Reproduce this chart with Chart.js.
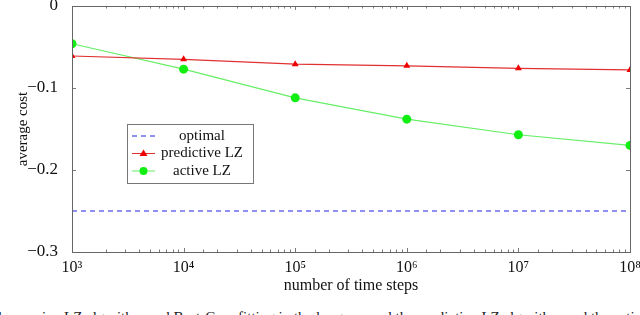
<!DOCTYPE html>
<html>
<head>
<meta charset="utf-8">
<script src="https://cdn.jsdelivr.net/npm/chart.js@4.4.0/dist/chart.umd.min.js"></script>
<style>
  html, body { margin: 0; padding: 0; background: #fff; overflow: hidden; }
  #wrap { position: relative; width: 640px; height: 300px; }
  #caption {
    position: absolute; left: -6px; top: 309px; white-space: nowrap;
    font-family: "Liberation Serif", serif; font-size: 15px; color: #222;
  }
</style>
</head>
<body>
<div id="wrap"><canvas id="cost-chart" width="640" height="300"></canvas></div>
<div id="caption">the passive LZ algorithm and Best-Case fitting in the long run and the predictive LZ algorithm and the active LZ algorithm with the heuristic</div>
<script>
// Data
const timeSteps = [1e3, 1e4, 1e5, 1e6, 1e7, 1e8];
const optimalCost = [-0.25, -0.25, -0.25, -0.25, -0.25, -0.25];
const predictiveCost = [-0.061, -0.065, -0.071, -0.073, -0.076, -0.078];
const activeCost = [-0.046, -0.077, -0.112, -0.138, -0.157, -0.170];
const yTicks = [0, -0.1, -0.2, -0.3];

const serif = '"Liberation Serif", "DejaVu Serif", serif';
const supDigits = { '0': '\u2070', '1': '\u00b9', '2': '\u00b2', '3': '\u00b3', '4': '\u2074',
                    '5': '\u2075', '6': '\u2076', '7': '\u2077', '8': '\u2078', '9': '\u2079' };

function toPoints(values) {
    return timeSteps.map((x, i) => ({ x: x, y: values[i] }));
}

function isPow10(v) {
    const e = Math.log10(v);
    return Math.abs(e - Math.round(e)) < 1e-9;
}

// Frame, inside tick marks and the boxed legend (pgfplots look)
const framePlugin = {
    id: 'frame',
    afterDatasetsDraw(chart) {
        const ctx = chart.ctx;
        const area = chart.chartArea;
        const xs = chart.scales.x;
        const ys = chart.scales.y;
        ctx.save();
        ctx.strokeStyle = '#7a7a7a';
        ctx.lineWidth = 1;

        // x ticks, major and minor, at top and bottom
        ctx.beginPath();
        xs.ticks.forEach(t => {
            const px = Math.round(xs.getPixelForValue(t.value)) + 0.5;
            const len = isPow10(t.value) ? 4 : 2.5;
            ctx.moveTo(px, area.bottom); ctx.lineTo(px, area.bottom - len);
            ctx.moveTo(px, area.top); ctx.lineTo(px, area.top + len);
        });
        // y ticks left and right
        yTicks.forEach(v => {
            const py = Math.round(ys.getPixelForValue(v)) + 0.5;
            ctx.moveTo(area.left, py); ctx.lineTo(area.left + 4, py);
            ctx.moveTo(area.right, py); ctx.lineTo(area.right - 4, py);
        });
        ctx.stroke();

        ctx.strokeStyle = '#666';
        ctx.strokeRect(Math.round(area.left) + 0.5, Math.round(area.top) + 0.5,
                       Math.round(area.right - area.left), Math.round(area.bottom - area.top));

        // legend box
        const lx = area.left + 55, ly = 124, lw = 126, lh = 59;
        ctx.fillStyle = '#fff';
        ctx.fillRect(lx, ly, lw, lh);
        ctx.strokeStyle = '#777';
        ctx.strokeRect(lx + 0.5, ly + 0.5, lw, lh);
        ctx.font = '15px ' + serif;
        ctx.textAlign = 'center';
        ctx.textBaseline = 'middle';
        chart.data.datasets.forEach((ds, i) => {
            const cy = ly + 12 + i * 17.5;
            ctx.strokeStyle = ds.borderColor;
            ctx.lineWidth = 1;
            ctx.setLineDash(ds.borderDash || []);
            ctx.beginPath();
            ctx.moveTo(lx + 5, cy); ctx.lineTo(lx + 28, cy);
            ctx.stroke();
            ctx.setLineDash([]);
            ctx.fillStyle = ds.pointBackgroundColor;
            if (ds.pointStyle === 'triangle') {
                ctx.beginPath();
                ctx.moveTo(lx + 16.5, cy - 4); ctx.lineTo(lx + 20.5, cy + 2.5); ctx.lineTo(lx + 12.5, cy + 2.5);
                ctx.closePath(); ctx.fill();
            } else if (ds.pointRadius > 0) {
                ctx.beginPath(); ctx.arc(lx + 16.5, cy, 4, 0, Math.PI * 2); ctx.fill();
            }
            ctx.fillStyle = '#111';
            ctx.fillText(ds.label, lx + 75, cy);
        });
        ctx.restore();
    }
};

new Chart(document.getElementById('cost-chart'), {
    type: 'line',
    data: {
        datasets: [{
            label: 'optimal',
            data: toPoints(optimalCost),
            borderColor: '#2020e0',
            borderWidth: 1,
            borderDash: [5, 4],
            pointRadius: 0,
            pointBackgroundColor: '#2020e0'
        }, {
            label: 'predictive LZ',
            data: toPoints(predictiveCost),
            borderColor: '#e03030',
            borderWidth: 1.2,
            pointStyle: 'triangle',
            pointRadius: 4,
            pointBorderWidth: 0,
            pointBackgroundColor: '#ee0000'
        }, {
            label: 'active LZ',
            data: toPoints(activeCost),
            borderColor: '#66ee66',
            borderWidth: 1.2,
            pointStyle: 'circle',
            pointRadius: 4.5,
            pointBorderWidth: 0,
            pointBackgroundColor: '#11ee11'
        }]
    },
    options: {
        responsive: false,
        animation: false,
        layout: { padding: { top: 6, right: 10, left: 0, bottom: 0 } },
        plugins: { legend: { display: false }, tooltip: { enabled: false } },
        scales: {
            x: {
                type: 'logarithmic',
                min: 1e3,
                max: 1e8,
                grid: { display: false },
                border: { display: false },
                ticks: {
                    autoSkip: false,
                    maxRotation: 0,
                    padding: -2,
                    color: '#111',
                    font: { family: serif, size: 16 },
                    callback: function (v) {
                        if (!isPow10(v)) return '';
                        const e = String(Math.round(Math.log10(v)));
                        return '10' + e.split('').map(d => supDigits[d]).join('');
                    }
                },
                title: {
                    display: true,
                    text: 'number of time steps',
                    color: '#111',
                    font: { family: serif, size: 16 },
                    padding: { top: 0, bottom: 5 }
                },
                afterFit(scale) {
                    scale.height = 48;
                    scale.paddingLeft = 0;
                    scale.paddingRight = 0;
                }
            },
            y: {
                min: -0.3,
                max: 0,
                grid: { display: false },
                border: { display: false },
                afterBuildTicks(scale) { scale.ticks = yTicks.map(v => ({ value: v })); },
                ticks: {
                    padding: 6,
                    color: '#111',
                    font: { family: serif, size: 17 },
                    callback: v => (v === 0 ? '0' : '\u2212' + Math.abs(v).toFixed(1))
                },
                title: {
                    display: true,
                    text: 'average cost',
                    color: '#111',
                    font: { family: serif, size: 15 },
                    padding: { top: 14, bottom: 0 }
                },
                afterFit(scale) {
                    scale.width = 72;
                    scale.paddingTop = 0;
                    scale.paddingBottom = 0;
                }
            }
        }
    },
    plugins: [framePlugin]
});
</script>
</body>
</html>
